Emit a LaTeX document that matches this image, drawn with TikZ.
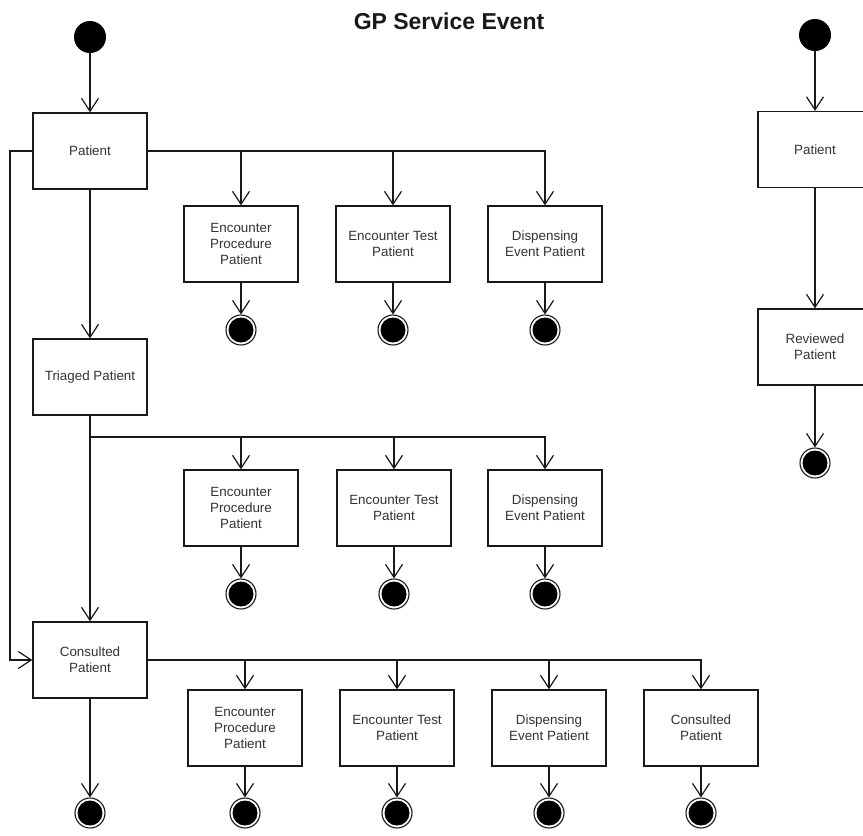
\documentclass[tikz,border=0pt]{standalone}
\usepackage{fontspec}
\setmainfont{Liberation Sans}
\usetikzlibrary{arrows.meta}
\begin{document}
\begin{tikzpicture}[x=1pt,y=-1pt,
  stbox/.style={draw=black!90, line width=1.3pt, fill=white, minimum width=114pt, minimum height=76pt,
    inner sep=2pt, align=center, font=\fontsize{13.4}{16}\selectfont, text=black!80},
  startst/.style={circle, fill=black, minimum size=32pt, inner sep=0pt},
  endst/.style={circle, draw=black!90, line width=1.1pt, minimum size=30pt, inner sep=0pt,
    path picture={\fill[black] (path picture bounding box.center) circle (12.5pt);}},
  arr/.style={draw=black!90, line width=1.2pt, -{Straight Barb[length=13pt,width=17pt]}},
  ln/.style={draw=black!90, line width=1.2pt}]
\useasboundingbox (0,0) rectangle (863,836);
\clip (0,0) rectangle (863,836);
\fill[white] (0,0) rectangle (863,836);

\node[font=\bfseries\fontsize{23}{26}\selectfont, text=black!90] (title) at (449,21) {GP Service Event};

% left column
\node[startst] (s1) at (90,37) {};
\node[stbox] (p1) at (90,151) {Patient};
\node[stbox] (tr) at (90,377) {Triaged Patient};
\node[stbox] (cp) at (90,660) {Consulted\\Patient};
\node[endst] (ec) at (90,813) {};

% top row
\node[stbox] (ep1) at (241,244) {Encounter\\Procedure\\Patient};
\node[stbox] (et1) at (393,244) {Encounter Test\\Patient};
\node[stbox] (de1) at (545,244) {Dispensing\\Event Patient};
\node[endst] (e11) at (241,330) {};
\node[endst] (e12) at (393,330) {};
\node[endst] (e13) at (545,330) {};

% middle row
\node[stbox] (ep2) at (241,508) {Encounter\\Procedure\\Patient};
\node[stbox] (et2) at (394,508) {Encounter Test\\Patient};
\node[stbox] (de2) at (545,508) {Dispensing\\Event Patient};
\node[endst] (e21) at (241,594) {};
\node[endst] (e22) at (394,594) {};
\node[endst] (e23) at (545,594) {};

% bottom row
\node[stbox] (ep3) at (245,728) {Encounter\\Procedure\\Patient};
\node[stbox] (et3) at (397,728) {Encounter Test\\Patient};
\node[stbox] (de3) at (549,728) {Dispensing\\Event Patient};
\node[stbox] (cp3) at (701,728) {Consulted\\Patient};
\node[endst] (e31) at (245,813) {};
\node[endst] (e32) at (397,813) {};
\node[endst] (e33) at (549,813) {};
\node[endst] (e34) at (701,813) {};

% right column
\node[startst] (s2) at (815,35) {};
\node[stbox] (rp) at (815,149.5) {Patient};
\node[stbox] (rr) at (815,347) {Reviewed\\Patient};
\node[endst] (re) at (815,463) {};

\coordinate (lb) at (10,151);
\coordinate (lc) at (10,660);
\coordinate (tb) at (90,437);

% connectors left column
\draw[arr] (s1) -- (p1);
\draw[arr] (p1) -- (tr);
\draw[arr] (tr) -- (cp);
\draw[arr] (cp) -- (ec);
\draw[arr] (p1.west) -- (lb) -- (lc) -- (cp.west);

% top branch
\draw[arr] (p1.east) -| (ep1.north);
\draw[arr] (p1.east) -| (et1.north);
\draw[arr] (p1.east) -| (de1.north);
\draw[arr] (ep1) -- (e11);
\draw[arr] (et1) -- (e12);
\draw[arr] (de1) -- (e13);

% middle branch
\draw[arr] (tb) -| (ep2.north);
\draw[arr] (tb) -| (et2.north);
\draw[arr] (tb) -| (de2.north);
\draw[arr] (ep2) -- (e21);
\draw[arr] (et2) -- (e22);
\draw[arr] (de2) -- (e23);

% bottom branch
\draw[arr] (cp.east) -| (ep3.north);
\draw[arr] (cp.east) -| (et3.north);
\draw[arr] (cp.east) -| (de3.north);
\draw[arr] (cp.east) -| (cp3.north);
\draw[arr] (ep3) -- (e31);
\draw[arr] (et3) -- (e32);
\draw[arr] (de3) -- (e33);
\draw[arr] (cp3) -- (e34);

% right column
\draw[arr] (s2) -- (rp);
\draw[arr] (rp) -- (rr);
\draw[arr] (rr) -- (re);
\end{tikzpicture}
\end{document}
